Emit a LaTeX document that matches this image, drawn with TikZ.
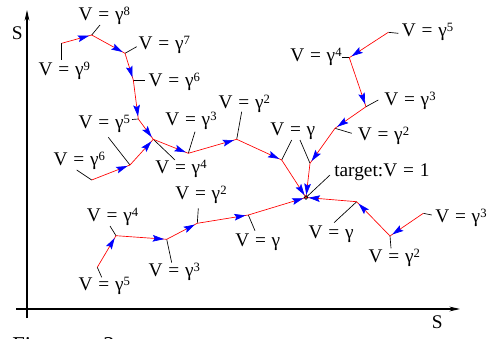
\documentclass[tikz,border=0pt]{standalone}
\usepackage{fontspec}
\setmainfont{Liberation Serif}
\usetikzlibrary{arrows.meta,decorations.markings}
\newcommand\gpow[1]{γ\raisebox{3.6pt}{\fontsize{9.5}{9.5}\selectfont #1}}
\newcommand\veq{V\hspace{0.3em}=\hspace{0.3em}}
\begin{document}
\begin{tikzpicture}[x=0.75pt,y=-0.75pt,
  lbl/.style={inner sep=0pt, anchor=base west, font=\fontsize{14.5}{16}\selectfont},
  seg/.style={red, line width=0.5pt, postaction={decorate},
    decoration={markings, mark=at position -2pt with {\arrow{Stealth[length=8.5pt,width=5pt,inset=1.5pt,blue]}}}},
  tick/.style={black, line width=0.5pt},
  axis/.style={black, line width=0.8pt, -{Stealth[length=8pt,width=3.6pt]}}
]
\useasboundingbox (0,0) rectangle (493,339);
% axes
\coordinate (yo) at (27,318); \coordinate (ytop) at (27,10);
\coordinate (xo) at (16,309); \coordinate (xend) at (460,309);
\draw[axis] (yo) -- (ytop);
\draw[axis] (xo) -- (xend);
\node[lbl] (sy) at (11.7,39) {S};
\node[lbl] (sx) at (431.7,328.3) {S};
% points
\coordinate (a9) at (61.7,43.3);  \coordinate (a9t) at (61.7,60);
\coordinate (a8) at (91.7,35);    \coordinate (a8t) at (100,25);
\coordinate (a7) at (125,53.3);   \coordinate (a7t) at (136.7,46.7);
\coordinate (a6) at (133.3,80);   \coordinate (a6t) at (145,80);
\coordinate (a5) at (138.3,119);  \coordinate (a5t) at (132,119.5);
\coordinate (j4) at (153.3,139.3);\coordinate (j4t) at (175,160);
\coordinate (l6) at (91.7,180);   \coordinate (l6t) at (76.7,170);
\coordinate (l5) at (130,165);    \coordinate (l5t) at (108.3,137.3);
\coordinate (m3) at (188.3,153.3);\coordinate (m3t) at (195,131.7);
\coordinate (m2) at (236.7,139.3);\coordinate (m2t) at (241.7,111.7);
\coordinate (g1) at (281.7,160);  \coordinate (g1t) at (291.7,140);
\coordinate (g1b) at (310,163.3); \coordinate (g1bt) at (300,140);
\coordinate (T) at (306,197.5);   \coordinate (Tt) at (330,175);
\coordinate (r5) at (388.3,32.3); \coordinate (r5t) at (398.3,33.3);
\coordinate (r4) at (349.3,57.7); \coordinate (r4t) at (341.7,57.7);
\coordinate (r3) at (366,106.7);  \coordinate (r3t) at (378.3,100);
\coordinate (r2) at (335,128.3);  \coordinate (r2t) at (351.7,133.3);
\coordinate (b5) at (97.3,267.3); \coordinate (b5t) at (101.7,277.3);
\coordinate (b4) at (116,235.7);  \coordinate (b4t) at (110,226);
\coordinate (b3) at (166.7,239.3);\coordinate (b3t) at (171.7,262.7);
\coordinate (b2) at (197.3,223.3);\coordinate (b2t) at (198.3,208.3);
\coordinate (b1) at (248.3,215);  \coordinate (b1t) at (255,230.7);
\coordinate (c3) at (423.3,213.3);\coordinate (c3t) at (431.7,215);
\coordinate (c2) at (390,236);    \coordinate (c2t) at (391,248.3);
\coordinate (c1) at (356.7,201.7);\coordinate (c1t) at (334,222.7);
% ticks
\foreach \p in {a9,a8,a7,a6,a5,j4,l6,l5,m3,m2,g1,g1b,T,r5,r4,r3,r2,b5,b4,b3,b2,b1,c3,c2,c1}
  \draw[tick] (\p) -- (\p t);
% segments
\draw[seg] (a9) -- (a8);
\draw[seg] (a8) -- (a7);
\draw[seg] (a7) -- (a6);
\draw[seg] (a6) -- (a5);
\draw[seg] (a5) -- (j4);
\draw[seg] (l6) -- (l5);
\draw[seg] (l5) -- (j4);
\draw[seg] (j4) -- (m3);
\draw[seg] (m3) -- (m2);
\draw[seg] (m2) -- (g1);
\draw[seg] (g1) -- (T);
\draw[seg] (r5) -- (r4);
\draw[seg] (r4) -- (r3);
\draw[seg] (r3) -- (r2);
\draw[seg] (r2) -- (g1b);
\draw[seg] (g1b) -- (T);
\draw[seg] (b5) -- (b4);
\draw[seg] (b4) -- (b3);
\draw[seg] (b3) -- (b2);
\draw[seg] (b2) -- (b1);
\draw[seg] (b1) -- (T);
\draw[seg] (c3) -- (c2);
\draw[seg] (c2) -- (c1);
\draw[seg] (c1) -- (T);
\draw[black, line width=0.5pt] (T) circle[radius=1.8];
% labels
\node[lbl] (L9) at (38.3,75) {\veq\gpow{9}};
\node[lbl] (L8) at (78.3,20.5) {\veq\gpow{8}};
\node[lbl] (L7) at (138.3,49.5) {\veq\gpow{7}};
\node[lbl] (L6a) at (148.3,86) {\veq\gpow{6}};
\node[lbl] (L5) at (78.3,128.5) {\veq\gpow{5}};
\node[lbl] (L6b) at (53.3,165) {\veq\gpow{6}};
\node[lbl] (L4m) at (155,173.5) {\veq\gpow{4}};
\node[lbl] (L3m) at (165,125.5) {\veq\gpow{3}};
\node[lbl] (L2m) at (218.3,108) {\veq\gpow{2}};
\node[lbl] (L1m) at (270,135) {\veq γ};
\node[lbl] (R5) at (401.7,36.5) {\veq\gpow{5}};
\node[lbl] (R4) at (290,61.5) {\veq\gpow{4}};
\node[lbl] (R3) at (384,105) {\veq\gpow{3}};
\node[lbl] (R2) at (357.5,140) {\veq\gpow{2}};
\node[lbl] (Tl) at (334,176) {target:\veq 1};
\node[lbl] (B5) at (78.3,290.5) {\veq\gpow{5}};
\node[lbl] (B4) at (86.7,221.5) {\veq\gpow{4}};
\node[lbl] (B3) at (148.3,276.5) {\veq\gpow{3}};
\node[lbl] (B2) at (175,199) {\veq\gpow{2}};
\node[lbl] (B1) at (235,246.5) {\veq γ};
\node[lbl] (C1) at (308.3,238.3) {\veq γ};
\node[lbl] (C3) at (435,222.5) {\veq\gpow{3}};
\node[lbl] (C2) at (368.3,262.5) {\veq\gpow{2}};
\node[lbl, font=\fontsize{17}{19}\selectfont] (fig) at (12,352.5) {Figure\hspace{24pt}2};
\end{tikzpicture}
\end{document}
